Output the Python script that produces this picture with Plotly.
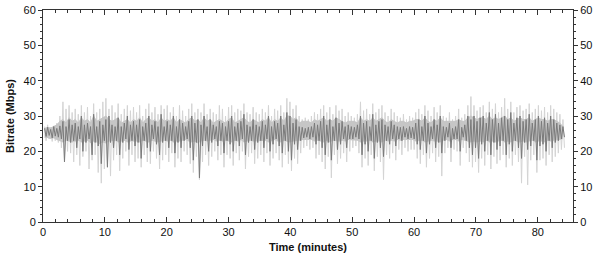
import plotly.graph_objects as go

# ---- data (Mbps) ----
t_start = 0.25      # minutes
t_step = 0.248      # minutes between samples of the detailed series
mid_step = 0.496    # minutes between samples of the mid band

# light (outer) envelope samples, alternating high / low
light = [
    27,23, 27.5,23.5, 26.8,22.8, 27.2,23, 28,22.5, 30,21, 34,18, 32,20, 33,19.5, 31,17,
    32,19, 30.5,16, 33,18.5, 31,20, 32.5,15, 30,17.5, 33.5,19, 31,14, 32,11, 34,15,
    35,16, 32,13, 33,17.5, 31,19, 33.5,14.5, 30.5,18, 32,20, 33,16, 31.5,19, 32.5,17,
    31,18, 33,15.5, 30,19, 32,17, 33.5,16.5, 31,20, 32.5,18, 30.5,15, 33,17.5, 32,19,
    33,17, 31,19.5, 32.5,15.5, 30,18, 33,17, 31.5,20, 30,19, 32,16.5, 33.5,14, 31,18.5,
    32,12, 31,17, 33.5,19, 30.5,16, 32,18.5, 31,20, 30.5,17.5, 33,19, 32,15.5, 30,19,
    32.5,18, 33,16, 31,19.5, 32,17.5, 31.5,20, 33.5,15, 31,18.5, 30.5,19.5, 32.5,16.5, 31,18,
    30.5,19, 32,17, 31,19.5, 33,16, 30,18, 32,19.5, 31.5,17.5, 33,15.5, 31,19, 35,16.5,
    34,14.5, 32,18, 33,16.5, 30,19.5, 29,21, 29.5,21.5, 29,20.5, 30,21, 31,18, 30.5,19,
    32,17, 33,15, 31,18.5, 32.5,12.5, 30.5,19, 33,16.5, 31.5,18, 32,19.5, 30,17, 31,20,
    30,21, 29.5,21.5, 30.5,19.5, 34,15.5, 31.5,18, 32,16, 30.5,19, 33.5,14.5, 31,18.5, 32,17,
    33,12, 31,19, 30,18, 32,19.5, 31,17.5, 30,20.5, 29.5,19, 30.5,21, 29,20, 30,20.5,
    29.5,20.5, 31,18, 32,16.5, 30.5,19, 33,15.5, 31.5,18, 30,19.5, 32.5,17, 31,18.5, 33,13,
    30,19.5, 29.5,21, 31,17, 29,20.5, 30,20, 32,16, 29.5,21, 30.5,19.5, 33,17, 35.5,15.5,
    33,17, 31.5,14, 32.5,18, 33,16, 31,19, 34,15, 32,18.5, 33.5,16.5, 31,17.5, 32.5,19,
    35,15.5, 32,18, 34,16, 31,19, 32.5,17, 33,11, 31.5,18.5, 32,10.5, 33.5,17.5, 31,19,
    32,14, 33,17.5, 31.5,18, 32.5,16, 31,19, 33,17, 32,18.5, 31,19.5, 30.5,20.5, 29,21,
]

# mid band upper and lower edges
mid_hi = [
    26.5,26.8,26.6,27,27.5,28.5,29,28,29.5,28.5,
    29,28,29.5,28.5,29,28,30,28.5,29,29.5,
    30,29,28.5,29,29.5,28,28.5,29,28,29,
    28.5,29.5,28,29,29.5,28.5,29,28,29.5,28.5,
    29,28.5,29.5,28,29,28.5,28,29,29.5,28.5,
    29,28,29.5,28.5,29,28,28.5,29,28.5,28,
    29,29.5,28,28.5,29,29.5,28.5,28,29,28.5,
    28,29,28.5,29.5,28,29,28.5,29.5,28.5,30,
    30,29,29.5,28,28.5,28.5,28.5,28,29,28.5,
    29,29.5,28.5,29,28.5,29.5,29,28.5,28,28.5,
    28.5,28.5,28,29.5,28.5,29,28.5,29.5,28.5,29,
    29.5,28.5,28,29,28.5,28,28.5,28.5,28,28.5,
    28.5,29,29,28.5,29.5,28.5,28,29,28.5,29.5,
    28.5,28.5,28.5,28.5,28.5,29,28.5,28.5,29.5,30,
    29.5,29,29.5,29.5,29,30,29,29.5,29,29.5,
    30,29,29.5,28.5,29,29.5,29,29,29.5,28.5,
    29,29.5,29,29,28.5,29,29,28.5,28,27,
]
mid_lo = [
    23.8,23.8,23.5,23.7,23.2,22.8,22.5,23,22.8,22.5,
    22.8,23,22.5,22.8,23,22.3,22.8,22.5,22,22.5,
    22.2,22.8,22.8,23,22.5,22.8,23,22.5,22.8,22.8,
    22.8,22.5,23,22.8,22.5,23,22.8,22.5,22.8,23,
    22.8,23,22.5,22.8,22.8,23,23.2,22.8,22.5,22.8,
    22.2,22.8,23,22.8,23,23.2,22.8,23,22.8,23,
    22.8,22.5,23,22.8,23.2,22.5,22.8,23,22.8,22.8,
    23,22.8,23,22.5,22.8,23.2,22.8,22.5,23,22.8,
    22.5,22.8,22.8,23,23.2,23.2,23.2,23.2,22.8,23,
    22.8,22.5,23,22.5,23,22.8,22.8,23,22.8,23.2,
    23.2,23.2,23,22.5,22.8,22.8,23,22.5,22.8,22.8,
    22.5,23,22.8,23,22.8,23.2,23,23.2,23.2,23.2,
    23.2,22.8,22.8,23,22.5,22.8,23,22.8,22.8,22.5,
    23,23.2,22.8,23.2,23.2,22.8,23.2,23,22.8,22.5,
    22.8,22.5,22.8,22.5,23,22.5,22.8,22.5,22.8,23,
    22.5,22.8,22.5,23,22.8,22.5,22.8,22.5,22.8,23,
    22.5,22.8,22.8,22.5,23,22.8,23,23,23.2,23.5,
]

# dark (core) samples, alternating high / low
dark = [
    26.5,24.2, 26.8,24.5, 26.2,23.8, 27,24.3, 26.5,24, 27.2,23.5, 28.5,17, 27,23, 29,22.5, 27.5,23,
    28,21, 27,23.5, 30,20, 27.5,22.5, 28,23.5, 27,19, 30.5,22.5, 27,21.5, 28.5,16.5, 27.5,23,
    29,15.5, 30,22.5, 27.5,21, 27,23, 29.5,19, 27,22.5, 28,23.5, 30,20.5, 27.5,23, 28.5,21.5,
    27.5,22.5, 29,18, 27,23, 28,21, 30,20, 27.5,23.5, 28.5,22, 27,19, 30.5,22.5, 27,23,
    28.5,21, 27.5,23, 30,19.5, 27,22.5, 29,21, 28,23, 27,23.5, 28.5,21, 30,17.5, 28,22.5,
    29,12.5, 27.5,21.5, 30,23, 27,20, 29,22.5, 27.5,23.5, 27,21.5, 28.5,23, 28,19.5, 27,23,
    28.5,22, 30,20, 27,23, 28,21.5, 28.5,23.5, 30.5,19, 27.5,22.5, 27,23, 29,20.5, 27.5,22.5,
    27,23, 28.5,21, 27.5,23.5, 30,20, 27,22, 28.5,23.5, 28,21.5, 30,19.5, 27.5,23, 31,20,
    30,17.5, 28,22, 29,20.5, 27,23, 26.8,23.8, 26.5,24, 26.8,23.5, 27,24, 28,22, 27.5,23,
    28.5,21, 30,19, 27.5,22.5, 29,17.5, 27,23, 29.5,20.5, 28,22, 28.5,23.5, 27,21, 27.5,23.5,
    27,23.5, 26.8,24, 27.5,23.5, 30,19, 28,22, 28.5,20, 27,23, 30.5,18, 27.5,22.5, 28.5,21,
    29,18.5, 27.5,23, 27,22, 28.5,23.5, 27.5,21.5, 27,23.5, 26.8,23, 27,24, 26.5,23.5, 27,23.8,
    26.8,23.5, 28,22, 29,20.5, 27,23, 30,19.5, 28,22, 27,23.5, 29,21, 27.5,22.5, 30,19.5,
    27,23, 26.8,24, 28,21, 26.5,23.5, 27,23.5, 29,20, 26.8,24, 27.5,23, 30,21, 29,19,
    30,21, 28.5,18, 29.5,22, 30,20, 28,23, 31,19, 29,22.5, 30.5,20.5, 28,21.5, 29.5,23,
    30,19, 29,22, 31,20, 28,23, 29.5,21, 30,18, 28.5,22.5, 29,20.5, 30.5,21.5, 28,23,
    29,17.5, 30,21.5, 28.5,22, 29.5,20, 28,23, 30,21, 29,22.5, 28,23, 27.5,23.5, 27,24,
]

x_tick_vals = [0, 10, 20, 30, 40, 50, 60, 70, 80]
y_tick_vals = [0, 10, 20, 30, 40, 50, 60]

t_fine = [t_start + i * t_step for i in range(len(dark))]
t_light = [t_start + i * t_step for i in range(len(light))]
t_mid = [t_start + i * mid_step for i in range(len(mid_hi))]

fig = go.Figure()
fig.add_trace(go.Scatter(x=t_light, y=light, mode="lines",
                         line=dict(color="#d4d4d4", width=1), hoverinfo="skip"))
fig.add_trace(go.Scatter(x=t_mid, y=mid_lo, mode="lines",
                         line=dict(color="rgba(0,0,0,0)", width=0), hoverinfo="skip"))
fig.add_trace(go.Scatter(x=t_mid, y=mid_hi, mode="lines", fill="tonexty",
                         fillcolor="#c6c6c6", line=dict(color="#c2c2c2", width=0.8),
                         hoverinfo="skip"))
fig.add_trace(go.Scatter(x=t_fine, y=dark, mode="lines",
                         line=dict(color="#7a7a7a", width=1), hoverinfo="skip"))
# carrier for right-hand axis
fig.add_trace(go.Scatter(x=[None], y=[None], yaxis="y2", hoverinfo="skip"))

font = "Liberation Sans, Arial, sans-serif"
fig.update_layout(
    width=600, height=260,
    margin=dict(l=43, r=27, t=10, b=38),
    paper_bgcolor="white", plot_bgcolor="white",
    showlegend=False,
    font=dict(family=font, size=11, color="#111"),
    xaxis=dict(
        range=[0, 85.7], tickvals=x_tick_vals, ticks="inside", ticklen=5,
        tickcolor="#333", showline=True, linecolor="#333", linewidth=1,
        mirror="ticks", showgrid=False, zeroline=False, automargin=False,
        minor=dict(dtick=2, ticks="inside", ticklen=3, tickcolor="#333"),
        title=dict(text="<b>Time (minutes)</b>", font=dict(size=11, family=font),
                   standoff=6),
    ),
    yaxis=dict(
        range=[0, 60], tickvals=y_tick_vals, ticks="outside", ticklen=4,
        tickcolor="#333", showline=True, linecolor="#333", linewidth=1,
        showgrid=False, zeroline=False, automargin=False,
        minor=dict(dtick=2, ticks="outside", ticklen=2, tickcolor="#333"),
        title=dict(text="<b>Bitrate (Mbps)</b>", font=dict(size=11, family=font),
                   standoff=6),
    ),
    yaxis2=dict(
        range=[0, 60], tickvals=y_tick_vals, ticks="outside", ticklen=4,
        tickcolor="#333", showline=True, linecolor="#333", linewidth=1,
        overlaying="y", side="right", showgrid=False, zeroline=False,
        automargin=False,
        minor=dict(dtick=2, ticks="outside", ticklen=2, tickcolor="#333"),
    ),
)

fig.write_html("out.html")
